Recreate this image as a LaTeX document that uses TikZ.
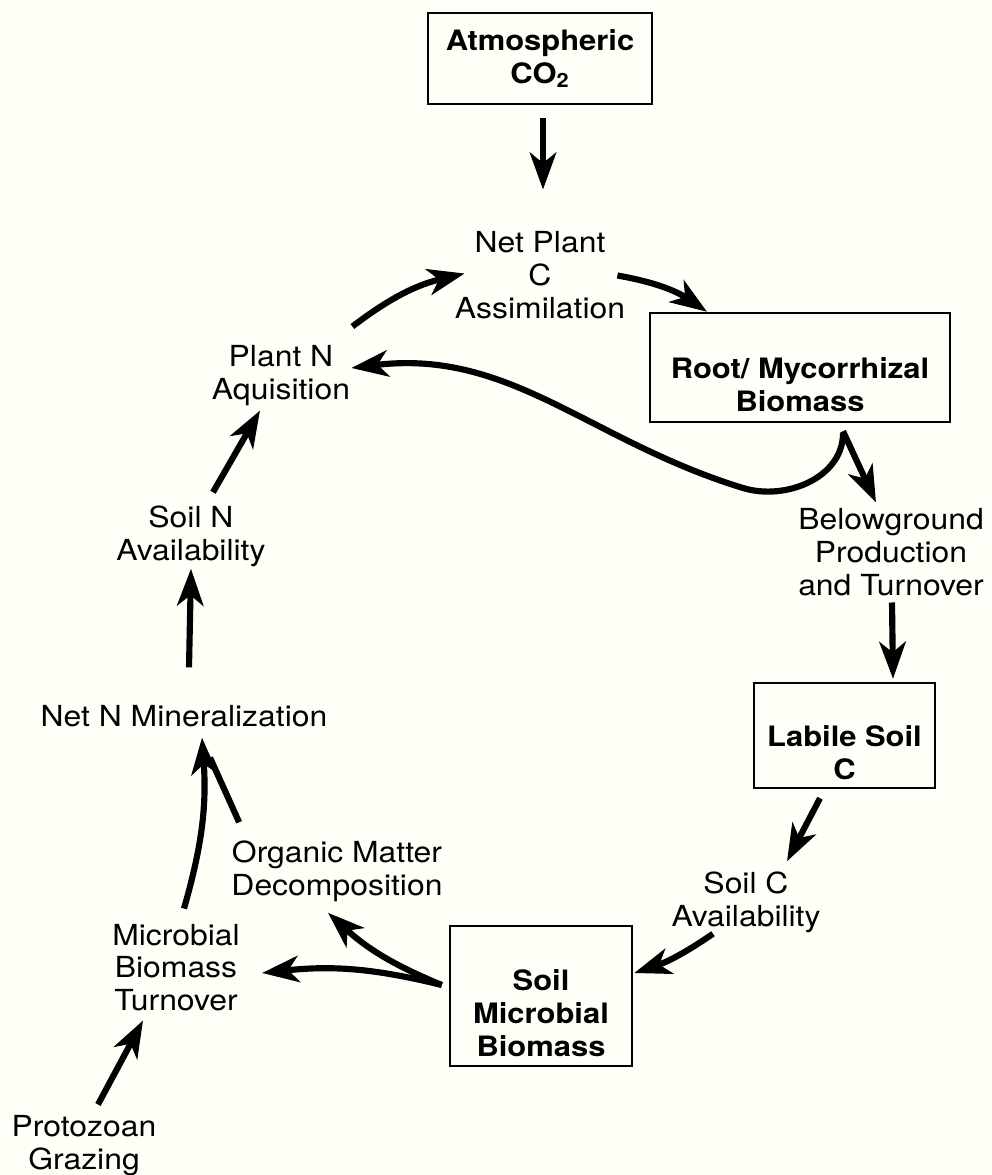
\documentclass[tikz,border=0pt]{standalone}
\usepackage{fontspec}
\setmainfont{TeX Gyre Heros}[FakeStretch=1.1]
\usetikzlibrary{arrows.meta}
\definecolor{paper}{RGB}{255,254,247}
\newcommand{\lblfont}{\fontsize{16.5}{18.7}\selectfont}
\newcommand{\boxfont}{\fontsize{16}{18.7}\selectfont\bfseries}

\begin{document}
\begin{tikzpicture}[x=0.02cm, y=0.02cm,
  box/.style={draw, line width=1.4pt, align=center, font=\boxfont},
  lbl/.style={align=center, inner sep=0pt, font=\lblfont},
  flow/.style={line width=3.5pt, -{Stealth[length=21pt,width=15pt,inset=6pt]}}]
  % page
  \fill[paper] (0,0) rectangle (991,-1175);
  \useasboundingbox (0,0) rectangle (991,-1175);
  % pools
  \node[box, minimum width=4.48cm, minimum height=1.82cm] (atm) at (540,-58.5) {Atmospheric\\CO\textsubscript{2}};
  \node[box, minimum width=6cm, minimum height=2.18cm] (root) at (800,-367.5) {\strut\\Root/ Mycorrhizal\\Biomass};
  \node[box, minimum width=3.62cm, minimum height=2.1cm] (labile) at (844.5,-735.5) {\strut\\Labile Soil\\C};
  \node[box, minimum width=3.64cm, minimum height=2.8cm] (micb) at (541,-996) {\strut\\Soil\\Microbial\\Biomass};
  % processes
  \node[lbl] (netc) at (540,-275.5) {Net Plant\\C\\Assimilation};
  \node[lbl] (plantn) at (281,-376) {Plant N\\Aquisition};
  \node[lbl] (soiln) at (191,-536) {Soil N\\Availability};
  \node[lbl] (netn) at (184,-716.5) {Net N Mineralization};
  \node[lbl] (omd) at (337,-871) {Organic Matter\\Decomposition};
  \node[lbl] (mbt) at (176,-967.5) {Microbial\\Biomass\\Turnover};
  \node[lbl] (proto) at (84,-1146) {Protozoan\\Grazing};
  \node[lbl] (soilc) at (746,-902) {Soil C\\Availability};
  \node[lbl] (below) at (891,-552.5) {Belowground\\Production\\and Turnover};
  % carbon flows
  \draw[flow] ([shift={(3,-13)}]atm.south) -- ([shift={(3,42)}]netc.north);
  \draw[flow] ([shift={(-8,0)}]netc.east) to[bend left=12] ([shift={(-93,0)}]root.north);
  \draw[flow] ([shift={(43,-8)}]root.south) -- ([shift={(-15,6)}]below.north);
  \draw[flow] ([shift={(1,-6)}]below.south) -- ([shift={(48.5,3)}]labile.north);
  \draw[flow] ([shift={(-24.5,-9)}]labile.south) -- ([shift={(41,10)}]soilc.north);
  \draw[flow] ([shift={(-33,-1)}]soilc.south) to[bend left=8] ([shift={(1,23)}]micb.east);
  % root to plant N uptake
  \coordinate (dip) at (743,-488);
  \draw[flow] ([shift={(43,-10)}]root.south) to[out=270,in=-17] (dip)
    to[out=163,in=7] ([shift={(1,8)}]plantn.east);
  % nitrogen flows
  \draw[flow] ([shift={(-7,11)}]micb.west) to[bend right=10] ([shift={(22,-5.5)}]mbt.east);
  \draw[flow] ([shift={(-7,11)}]micb.west) to[bend left=10] ([shift={(-9,-11)}]omd.south);
  \draw[flow] ([shift={(8,15)}]mbt.north) to[bend right=10] ([shift={(18,-10)}]netn.south);
  \draw[line width=3.5pt] ([shift={(8,18)}]omd.north west) -- ([shift={(26,-30)}]netn.south);
  \draw[flow] ([shift={(14,11)}]proto.north) -- ([shift={(-33,-9)}]mbt.south);
  \draw[flow] ([shift={(5,38)}]netn.north) -- ([shift={(0,-2)}]soiln.south);
  \draw[flow] ([shift={(22,13)}]soiln.north) -- ([shift={(-21,-4)}]plantn.south);
  \draw[flow] ([shift={(2,19)}]plantn.north east) to[bend left=12] ([shift={(10,2)}]netc.west);
\end{tikzpicture}
\end{document}
